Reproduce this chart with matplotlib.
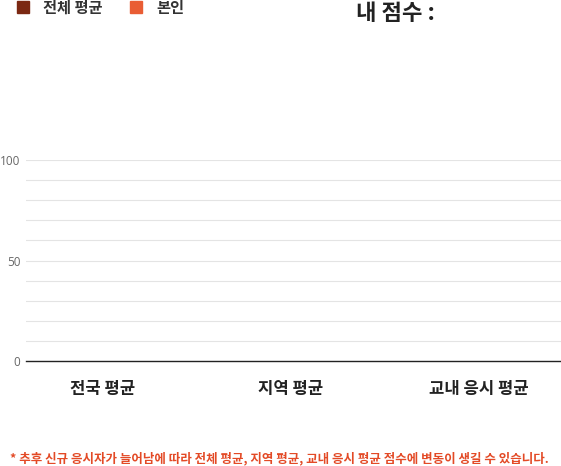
import numpy as np
import matplotlib
matplotlib.use('Agg')
import matplotlib.pyplot as plt
from matplotlib.patches import Rectangle

plt.rcParams['font.family'] = ['Noto Sans CJK KR', 'DejaVu Sans']

categories = ['전국 평균', '지역 평균', '교내 응시 평균']
avg_scores = [0, 0, 0]
my_scores = [0, 0, 0]
y_ticks = [0, 50, 100]
series_names = ['전체 평균', '본인']
colors = ['#7b2812', '#e95d34']

fig = plt.figure(figsize=(5.61, 4.66), dpi=100)
ax = fig.add_axes([26/561, 105/466, 535/561, 201/466])

x = np.arange(len(categories))
w = 0.2
ax.bar(x - w/2, avg_scores, w, color=colors[0])
ax.bar(x + w/2, my_scores, w, color=colors[1])

ax.set_ylim(0, 100)
ax.set_xlim(-0.41, 2.44)
ax.set_yticks(np.arange(0, 101, 10), minor=True)
ax.set_yticks(y_ticks)
ax.set_yticklabels([str(v) for v in y_ticks], color='#666666', fontsize=8.5)
ax.grid(axis='y', which='both', color='#e4e4e4', linewidth=0.8)
ax.set_axisbelow(True)
ax.tick_params(axis='y', which='both', length=0, pad=4)
ax.tick_params(axis='x', length=0, pad=14)
ax.set_xticks(x)
ax.set_xticklabels(categories, fontsize=12, fontweight='bold', color='#222222')
for s in ['top', 'right', 'left']:
    ax.spines[s].set_visible(False)
ax.spines['bottom'].set_color('#222222')
ax.spines['bottom'].set_linewidth(1.0)
for lab in ax.get_yticklabels():
    lab.set_family(['Open Sans', 'DejaVu Sans'])

# legend
fig.patches.append(Rectangle((17/561, 1 - 13/466), 12/561, 12/466, color=colors[0], transform=fig.transFigure))
fig.patches.append(Rectangle((130/561, 1 - 13/466), 12/561, 12/466, color=colors[1], transform=fig.transFigure))
fig.text(43/561, 1 - 8/466, series_names[0], fontsize=11, fontweight='bold', color='#333333', va='center')
fig.text(156/561, 1 - 8/466, series_names[1], fontsize=11, fontweight='bold', color='#333333', va='center')

fig.text(356/561, 1 - 14/466, '내 점수 :', fontsize=16, fontweight='bold', color='#222222', va='center')

fig.text(10/561, 1 - 459/466, '* 추후 신규 응시자가 늘어남에 따라 전체 평균, 지역 평균, 교내 응시 평균 점수에 변동이 생길 수 있습니다.',
         fontsize=9, fontweight='bold', color='#e34a26', va='center')

fig.savefig('out.png', dpi=100)
